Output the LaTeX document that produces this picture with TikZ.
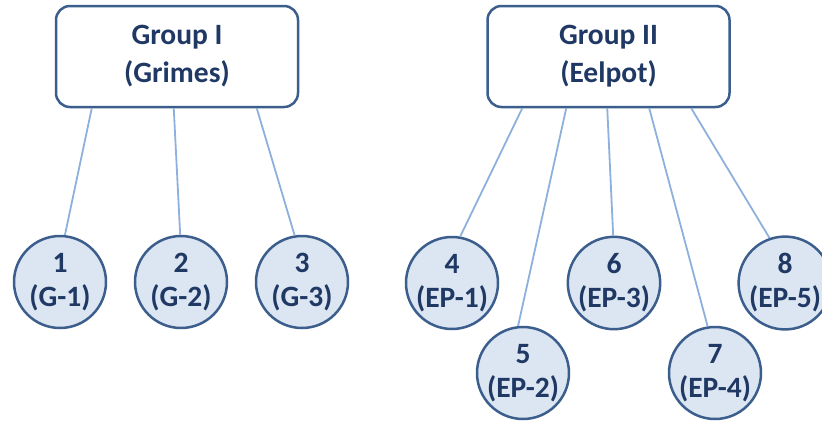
\documentclass[tikz,border=0pt]{standalone}
\usepackage{fontspec}
\setmainfont{Carlito}
\usetikzlibrary{calc}
\definecolor{bordc}{HTML}{3B5E8C}
\definecolor{fillc}{HTML}{DCE6F2}
\definecolor{linec}{HTML}{8EB0DC}
\definecolor{textc}{HTML}{1F3864}
\begin{document}
\begin{tikzpicture}[x=1pt,y=-1pt,
  groupbox/.style={draw=bordc, line width=2.5pt, rounded corners=14pt, fill=white,
    minimum width=242pt, minimum height=101pt, inner sep=0pt, align=center,
    font=\fontsize{29.5}{38}\selectfont\bfseries, text=textc},
  leaf/.style={circle, draw=bordc, line width=2.5pt, fill=fillc, minimum size=92pt,
    inner sep=0pt, align=center, font=\fontsize{29.5}{34}\selectfont\bfseries, text=textc},
  conn/.style={draw=linec, line width=1.8pt}]
\useasboundingbox (0,0) rectangle (822,421);

\node[groupbox] (g1) at (177,56.5) {Group I\\(Grimes)};
\node[groupbox] (g2) at (608.5,56.5) {Group II\\(Eelpot)};

\node[leaf] (c1) at (60,282) {1\\(G-1)};
\node[leaf] (c2) at (181,282) {2\\(G-2)};
\node[leaf] (c3) at (302,282) {3\\(G-3)};
\node[leaf] (c4) at (452,283) {4\\(EP-1)};
\node[leaf] (c5) at (523,373) {5\\(EP-2)};
\node[leaf] (c6) at (614,283) {6\\(EP-3)};
\node[leaf] (c7) at (715,373) {7\\(EP-4)};
\node[leaf] (c8) at (785,283) {8\\(EP-5)};

\draw[conn] ($(g1.south west)+(37,0)$) -- (c1.84);
\draw[conn] ($(g1.south west)+(119,0)$) -- (c2.91);
\draw[conn] ($(g1.south west)+(202,0)$) -- (c3.99);
\draw[conn] ($(g2.south west)+(36,0)$) -- (c4.80);
\draw[conn] ($(g2.south west)+(80,0)$) -- (c5.96);
\draw[conn] ($(g2.south west)+(121,0)$) -- (c6.91);
\draw[conn] ($(g2.south west)+(163,0)$) -- (c7.99);
\draw[conn] ($(g2.south west)+(205,0)$) -- (c8.109);
\end{tikzpicture}
\end{document}
